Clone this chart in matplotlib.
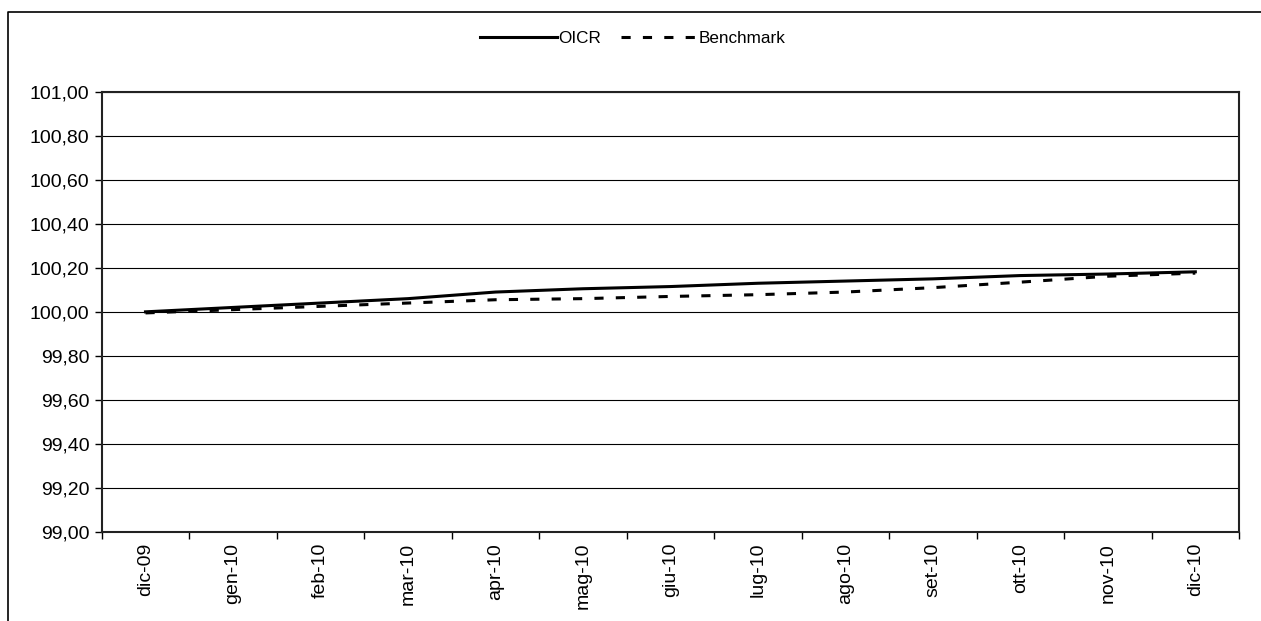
import matplotlib.pyplot as plt
from matplotlib.lines import Line2D
import numpy as np

plt.rcParams['font.family'] = ['Liberation Sans', 'DejaVu Sans']

# dati
mesi = ["dic-09", "gen-10", "feb-10", "mar-10", "apr-10", "mag-10", "giu-10",
        "lug-10", "ago-10", "set-10", "ott-10", "nov-10", "dic-10"]
oicr = [100.00, 100.02, 100.04, 100.06, 100.09, 100.105, 100.115,
        100.13, 100.14, 100.15, 100.165, 100.172, 100.182]
benchmark = [99.995, 100.01, 100.025, 100.04, 100.055, 100.06, 100.07,
             100.078, 100.09, 100.11, 100.135, 100.162, 100.176]
y_ticks = [99.0, 99.2, 99.4, 99.6, 99.8, 100.0, 100.2, 100.4, 100.6, 100.8, 101.0]

fig = plt.figure(figsize=(12.61, 6.21), dpi=100)
ax = fig.add_axes([0.0807, 0.1438, 0.9019, 0.7081])

x = np.arange(len(mesi))
ax.plot(x, oicr, color='black', lw=2.2, label='OICR')
ax.plot(x, benchmark, color='black', lw=2.2, dashes=(3, 4), label='Benchmark')

ax.set_xlim(-0.5, len(mesi) - 0.5)
ax.set_ylim(99.0, 101.0)

# griglia orizzontale
ax.set_yticks(y_ticks)
ax.set_yticklabels([f"{v:.2f}".replace('.', ',') for v in y_ticks], fontsize=14)
ax.yaxis.grid(True, color='black', lw=0.8)
ax.set_axisbelow(True)
ax.tick_params(axis='y', direction='out', length=5, width=1, pad=4)

# tacche tra le categorie, etichette al centro
ax.set_xticks(np.arange(len(mesi) + 1) - 0.5)
ax.set_xticklabels([])
ax.set_xticks(x, minor=True)
ax.set_xticklabels(mesi, minor=True, rotation=90, fontsize=14)
ax.tick_params(axis='x', which='major', direction='out', length=5, width=1)
ax.tick_params(axis='x', which='minor', length=0, pad=8)

for s in ax.spines.values():
    s.set_linewidth(1.5)
    s.set_color('#222222')

leg = fig.legend(loc='upper center', bbox_to_anchor=(0.502, 0.975), ncol=2,
                 frameon=False, fontsize=12.3, handlelength=4.5, handletextpad=0.05,
                 columnspacing=1.2)

# cornice esterna (solo lato sinistro e superiore visibili)
x0 = 8 / 1261
y1 = 1 - 12 / 621
fig.add_artist(Line2D([x0, x0, 1.0], [0.0, y1, y1], transform=fig.transFigure,
                      color='black', lw=1.2))

fig.savefig('out.png', dpi=100)
